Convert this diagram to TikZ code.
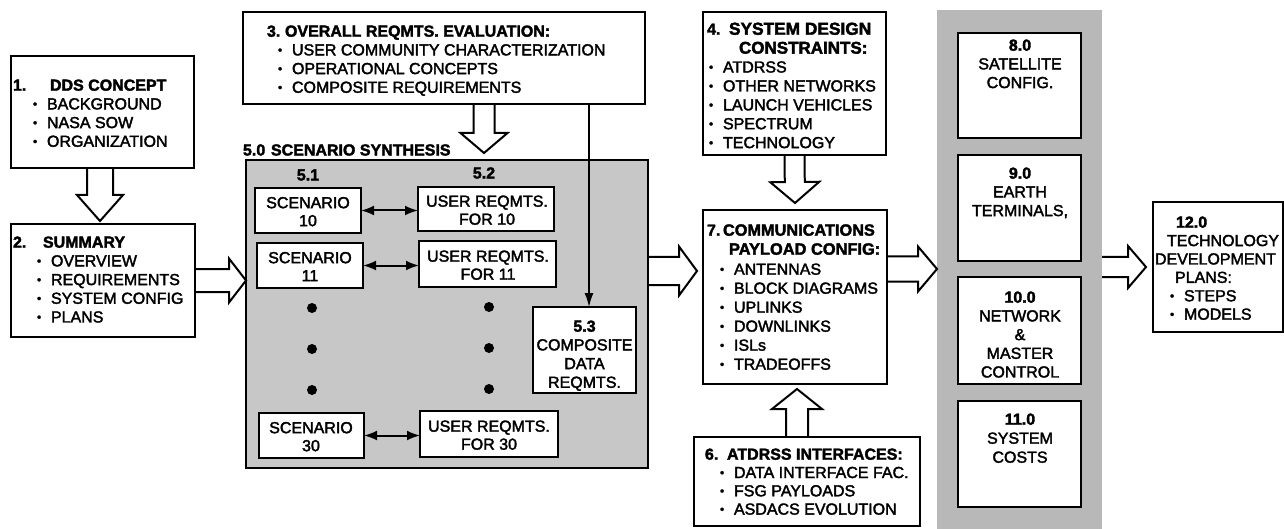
\documentclass[tikz,border=0pt]{standalone}
\usepackage{fontspec}
\setmainfont{Liberation Sans}
\newfontfamily\medf{Liberation Sans}[FakeBold=2.2]
\usetikzlibrary{calc,arrows.meta}
\newcommand{\bulx}{\makebox[14pt][l]{\raisebox{1.3pt}{\fontsize{12}{12}\selectfont\textbullet}}}
\newcommand{\hdr}[2]{{\bfseries\fontsize{#1}{18}\selectfont #2}}
\newcommand{\hollowarrow}[5]{%
  \coordinate (hh) at ($(#2)!#5!(#1)$);
  \draw[hol] ($(#1)!#3!90:(#2)$) -- ($(hh)!#3!90:(#2)$) -- ($(hh)!#4!90:(#2)$) -- (#2)
    -- ($(hh)!#4!-90:(#2)$) -- ($(hh)!#3!-90:(#2)$) -- ($(#1)!#3!-90:(#2)$);}
\begin{document}
\begin{tikzpicture}[x=1pt,y=-1pt,
 bx/.style={draw, line width=2.2pt, fill=white, inner sep=0pt, outer sep=0pt, anchor=north west},
 txt/.style={inner sep=0pt, outer sep=0pt, align=left, anchor=north west, font=\medf\fontsize{16}{18.7}\selectfont},
 ctxt/.style={inner sep=0pt, outer sep=0pt, align=center, anchor=north, font=\medf\fontsize{16}{18.7}\selectfont},
 lbl/.style={inner sep=0pt, outer sep=0pt, font=\medf\bfseries\fontsize{16}{18.7}\selectfont},
 hol/.style={draw, line width=2pt, line join=miter},
 dbl/.style={line width=2pt, {Latex[length=13pt,width=10pt]}-{Latex[length=13pt,width=10pt]}},
 dotn/.style={circle, fill, inner sep=0pt, minimum size=10pt},
]
\fill[white] (0,0) rectangle (1284,529);
\useasboundingbox (0,0) rectangle (1284,529);
% shaded areas
\node[fill=black!28, inner sep=0pt, outer sep=0pt, anchor=north west, minimum width=165pt, minimum height=521pt] (col) at (937,10) {};
\node[bx, fill=black!22, line width=2pt, minimum width=402pt, minimum height=308pt] (scen) at (246,160) {};
% boxes
\node[bx, minimum width=183pt, minimum height=112pt] (b1) at (11,56) {};
\node[bx, minimum width=184pt, minimum height=113pt] (b2) at (11,224) {};
\node[bx, minimum width=402pt, minimum height=92pt] (b3) at (243,12) {};
\node[bx, minimum width=183pt, minimum height=143pt] (b4) at (703,12) {};
\node[bx, minimum width=184pt, minimum height=174pt] (b7) at (703,210) {};
\node[bx, minimum width=226pt, minimum height=89pt] (b6) at (694,437) {};
\node[bx, minimum width=106pt, minimum height=45pt] (s10) at (255,188) {};
\node[bx, minimum width=136pt, minimum height=44pt] (u10) at (418,187) {};
\node[bx, minimum width=106pt, minimum height=45pt] (s11) at (257,243) {};
\node[bx, minimum width=137pt, minimum height=46pt] (u11) at (419,241) {};
\node[bx, minimum width=105pt, minimum height=45pt] (s30) at (259,413) {};
\node[bx, minimum width=138pt, minimum height=46pt] (u30) at (420,411) {};
\node[bx, minimum width=103pt, minimum height=86pt] (b53) at (533,307) {};
\node[bx, minimum width=123pt, minimum height=105pt] (b8) at (958,33) {};
\node[bx, minimum width=123pt, minimum height=106pt] (b9) at (958,155) {};
\node[bx, minimum width=123pt, minimum height=107pt] (b10) at (958,277) {};
\node[bx, minimum width=123pt, minimum height=106pt] (b11) at (958,401) {};
\node[bx, minimum width=130pt, minimum height=130pt] (b12) at (1153,202) {};
% texts
\node[txt] (t1) at (13,77.6) {\strut\makebox[37pt][l]{\bfseries 1.}{\bfseries DDS CONCEPT}\\
 \hspace*{20pt}\bulx BACKGROUND\\ \hspace*{20pt}\bulx NASA SOW\\ \hspace*{20pt}\bulx ORGANIZATION};
\node[txt] (t2) at (13,234.6) {\strut\makebox[30pt][l]{\bfseries 2.}{\bfseries SUMMARY}\\
 \hspace*{24pt}\bulx OVERVIEW\\ \hspace*{24pt}\bulx REQUIREMENTS\\ \hspace*{24pt}\bulx SYSTEM CONFIG\\ \hspace*{24pt}\bulx PLANS};
\node[txt] (t3) at (267,23.6) {\strut\makebox[18pt][l]{\bfseries 3.}{\bfseries OVERALL REQMTS. EVALUATION:}\\
 \hspace*{11pt}\bulx USER COMMUNITY CHARACTERIZATION\\ \hspace*{11pt}\bulx OPERATIONAL CONCEPTS\\ \hspace*{11pt}\bulx COMPOSITE REQUIREMENTS};
\node[txt, font=\medf\fontsize{16}{18.9}\selectfont] (t4) at (707,21.5) {\strut\makebox[22pt][l]{\bfseries 4.}\hdr{17.3}{SYSTEM DESIGN}\\
 \hspace*{32pt}\hdr{17}{CONSTRAINTS:}\\
 \hspace*{2pt}\bulx ATDRSS\\ \hspace*{2pt}\bulx OTHER NETWORKS\\ \hspace*{2pt}\bulx LAUNCH VEHICLES\\ \hspace*{2pt}\bulx SPECTRUM\\ \hspace*{2pt}\bulx TECHNOLOGY};
\node[txt, font=\medf\fontsize{16}{19}\selectfont] (t7) at (707,222.4) {\strut\makebox[16pt][l]{\bfseries 7.}\hdr{16.3}{COMMUNICATIONS}\\
 \hspace*{22pt}\hdr{16.4}{PAYLOAD CONFIG:}\\[1pt]
 \hspace*{13pt}\bulx ANTENNAS\\ \hspace*{13pt}\bulx BLOCK DIAGRAMS\\ \hspace*{13pt}\bulx UPLINKS\\ \hspace*{13pt}\bulx DOWNLINKS\\ \hspace*{13pt}\bulx ISLs\\ \hspace*{13pt}\bulx TRADEOFFS};
\node[txt, font=\medf\fontsize{16}{18.3}\selectfont] (t6) at (705,446.9) {\strut\makebox[22pt][l]{\bfseries 6.}{\bfseries ATDRSS INTERFACES:}\\
 \hspace*{15pt}\bulx DATA INTERFACE FAC.\\ \hspace*{15pt}\bulx FSG PAYLOADS\\ \hspace*{15pt}\bulx ASDACS EVOLUTION};
\node[txt, font=\medf\fontsize{16}{18.4}\selectfont] (t12) at (1155,214.8) {\strut\hspace*{21pt}{\bfseries 12.0}\\
 \hspace*{12pt}TECHNOLOGY\\ DEVELOPMENT\\ \hspace*{20pt}PLANS:\\ \hspace*{15pt}\bulx STEPS\\ \hspace*{15pt}\bulx MODELS};
\node[ctxt] (t8) at (1020,37.6) {\strut{\bfseries 8.0}\\SATELLITE\\CONFIG.};
\node[ctxt] (t9) at (1020,165.6) {\strut{\bfseries 9.0}\\EARTH\\TERMINALS,};
\node[ctxt] (t10) at (1020,289.6) {\strut{\bfseries 10.0}\\NETWORK\\\&\\MASTER\\CONTROL};
\node[ctxt, font=\medf\fontsize{16}{19}\selectfont] (t11) at (1020,411.4) {\strut{\bfseries 11.0}\\SYSTEM\\COSTS};
\node[ctxt, font=\medf\fontsize{16}{18}\selectfont] (ts10) at (308,195.6) {\strut SCENARIO\\10};
\node[ctxt, font=\medf\fontsize{16}{18}\selectfont] (tu10) at (487,194.1) {\strut USER REQMTS.\\FOR 10};
\node[ctxt, font=\medf\fontsize{16}{18}\selectfont] (ts11) at (310,250.6) {\strut SCENARIO\\11};
\node[ctxt, font=\medf\fontsize{16}{18}\selectfont] (tu11) at (488,249.1) {\strut USER REQMTS.\\FOR 11};
\node[ctxt, font=\medf\fontsize{16}{18}\selectfont] (ts30) at (311,420.6) {\strut SCENARIO\\30};
\node[ctxt, font=\medf\fontsize{16}{18}\selectfont] (tu30) at (489,419.1) {\strut USER REQMTS.\\FOR 30};
\node[ctxt] (t53) at (584.5,318.6) {\strut{\bfseries 5.3}\\COMPOSITE\\DATA\\REQMTS.};
\node[lbl, anchor=west] (l50) at (243,150) {\makebox[28pt][l]{5.0}SCENARIO SYNTHESIS};
\node[lbl] (l51) at (308,175) {5.1};
\node[lbl] (l52) at (484,173) {5.2};
% dots
\node[dotn] (d1) at (312,308) {};
\node[dotn] (d2) at (312,349) {};
\node[dotn] (d3) at (312,390) {};
\node[dotn] (d4) at (489,307) {};
\node[dotn] (d5) at (489,348) {};
\node[dotn] (d6) at (489,389) {};
% double arrows
\draw[dbl] (s10.east) -- (s10.east -| u10.west);
\draw[dbl] (s11.east) -- (s11.east -| u11.west);
\draw[dbl] (s30.east) -- (s30.east -| u30.west);
% line to 5.3
\coordinate (xc53) at (589,0);
\draw[line width=1.5pt, -{Latex[length=14pt,width=9pt]}] (b3.south -| xc53) -- (b53.north -| xc53);
% hollow arrows
\coordinate (xa) at (100,0);
\coordinate (s12) at (b1.south -| xa);
\coordinate (e12) at ($(b2.north -| xa)+(0,-3)$);
\hollowarrow{s12}{e12}{13pt}{23pt}{26pt}
\coordinate (xb) at (484,0);
\coordinate (s3) at (b3.south -| xb);
\coordinate (e3) at ($(scen.north -| xb)+(0,-7)$);
\hollowarrow{s3}{e3}{10.5pt}{23.5pt}{20pt}
\coordinate (s47) at (b4.south);
\coordinate (e47) at ($(b7.north)+(0,-7)$);
\hollowarrow{s47}{e47}{10pt}{24.5pt}{21pt}
\coordinate (xc) at (797,0);
\coordinate (s67) at (b6.north -| xc);
\coordinate (e67) at ($(b7.south -| xc)+(0,5)$);
\hollowarrow{s67}{e67}{11pt}{25pt}{20pt}
\coordinate (s2) at (b2.east);
\coordinate (e2) at (scen.west |- b2.east);
\hollowarrow{s2}{e2}{11.5pt}{22pt}{17pt}
\coordinate (ya) at (0,271);
\coordinate (ss) at (scen.east |- ya);
\coordinate (es) at ($(b7.west |- ya)+(-6,0)$);
\hollowarrow{ss}{es}{14pt}{24.5pt}{18pt}
\coordinate (yb) at (0,269);
\coordinate (s7) at (b7.east |- yb);
\coordinate (e7) at (col.west |- yb);
\hollowarrow{s7}{e7}{12.5pt}{22.5pt}{19pt}
\coordinate (sc) at (col.east |- b12.west);
\coordinate (ec) at ($(b12.west)+(-7,0)$);
\hollowarrow{sc}{ec}{10pt}{21pt}{18pt}
\end{tikzpicture}
\end{document}
